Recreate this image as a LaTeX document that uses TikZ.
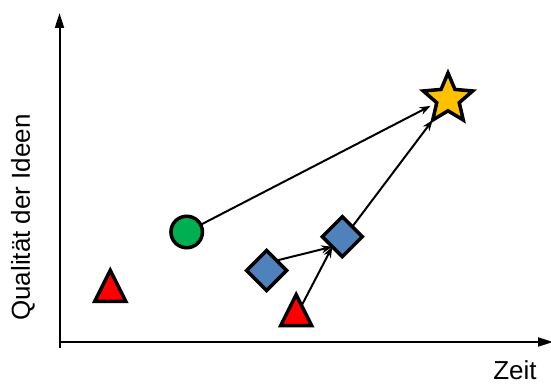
\documentclass[tikz,border=0pt]{standalone}
\usepackage{fontspec}
\setmainfont{Liberation Sans}
\usetikzlibrary{arrows.meta,shapes.geometric}
\definecolor{ideared}{HTML}{FF0000}
\definecolor{ideagreen}{HTML}{00B050}
\definecolor{ideablue}{HTML}{4F81BD}
\definecolor{ideagold}{HTML}{FFC000}

\begin{document}
\begin{tikzpicture}[->, >={Stealth[length=11pt,width=8pt]}, x=1pt, y=1pt, line width=2pt]
\tikzstyle{idea}=[draw=black, line width=3.5pt, inner sep=0pt, outer sep=0pt]
\tikzstyle{weak}=[idea, isosceles triangle, isosceles triangle stretches, shape border rotate=90, minimum width=31pt, minimum height=31pt, fill=ideared]
\tikzstyle{good}=[idea, circle, minimum size=31.5pt, fill=ideagreen]
\tikzstyle{better}=[idea, diamond, minimum size=40pt, fill=ideablue]
\tikzstyle{best}=[idea, star, star points=5, star point ratio=2.2, minimum size=52pt, fill=ideagold]
\tikzstyle{axislabel}=[font=\fontsize{26}{31}\selectfont, inner sep=0pt]
\useasboundingbox (0,0) rectangle (551,383);
% axes
\coordinate (ybot) at (59.5,35);
\coordinate (ytop) at (59.5,370);
\coordinate (xbeg) at (59.5,41);
\coordinate (xend) at (553,41);
\draw[-{Triangle[length=15pt,width=9pt]}] (ybot) -- (ytop);
\draw[-{Triangle[length=15pt,width=9pt]}] (xbeg) -- (xend);
\node[axislabel, rotate=90] (ylab) at (23,165.5) {Qualität der Ideen};
\node[axislabel, anchor=base] (xlab) at (515,4) {Zeit};
% ideas
\node[weak]   (t1) at (110.3,91.3) {};
\node[weak]   (t2) at (296.2,67)   {};
\node[good]   (c)  at (186.7,151)  {};
\node[better] (d1) at (266.7,112.5) {};
\node[better] (d2) at (342.3,146.3) {};
\node[best]   (s)  at (448,284)    {};
\draw[shorten >=7pt] (c) -- (s.inner point 2);
\draw (d1.north east) -- (d2.south west);
\draw (t2) -- (d2.south west);
\draw (d2.north east) -- (s.outer point 3);
\end{tikzpicture}
\end{document}
